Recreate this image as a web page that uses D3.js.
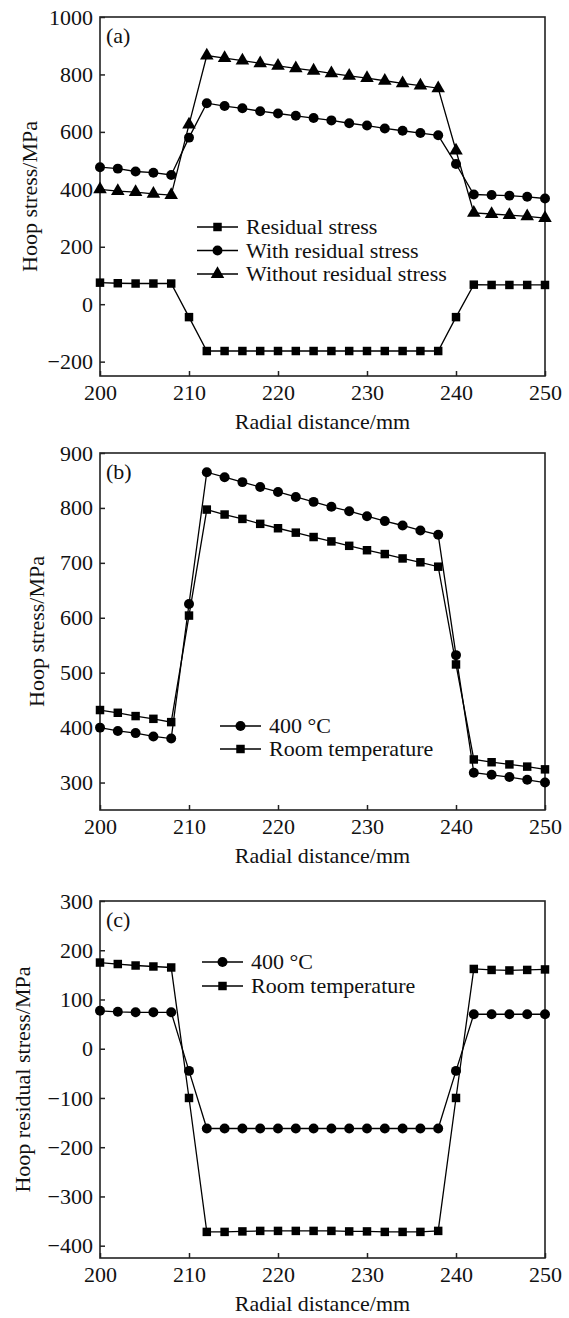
<!DOCTYPE html>
<html>
<head>
<meta charset="utf-8">
<script src="https://cdn.jsdelivr.net/npm/d3@7"></script>
<style>
  body { margin: 0; background: #fff; }
  svg text { font-family: "Liberation Serif", "Times New Roman", serif; fill: #111; }
</style>
</head>
<body>
<div id="chart"></div>
<script>
// radial positions, every 2 mm
var radial = [200,202,204,206,208,210,212,214,216,218,220,222,224,226,228,230,232,234,236,238,240,242,244,246,248,250];

// panel (a)
var residualStress = [75,73,72,72,72,-45,-163,-163,-163,-163,-163,-163,-163,-163,-163,-163,-163,-163,-163,-163,-45,68,67,67,67,67];
var withResidual = [477,472,462,458,450,580,700,690,682,672,664,656,648,640,630,622,612,604,596,588,488,382,380,378,374,368];
var withoutResidual = [400,394,390,384,380,625,866,857,848,839,830,821,813,804,795,787,778,769,761,752,535,318,314,310,306,300];

// panel (b)
var hoop400 = [400,394,390,384,380,625,865,856,847,838,829,820,811,802,794,785,776,768,759,751,532,318,314,310,305,300];
var hoopRoom = [432,427,421,416,410,604,797,788,780,771,763,755,747,739,731,723,716,708,701,693,515,342,337,333,329,324];

// panel (c)
var resid400 = [77,75,74,74,74,-45,-162,-162,-162,-162,-162,-162,-162,-162,-162,-162,-162,-162,-162,-162,-45,70,70,70,70,70];
var residRoom = [175,172,169,167,165,-100,-372,-372,-371,-370,-370,-370,-370,-370,-371,-371,-372,-372,-372,-370,-100,162,160,159,160,161];

var xTicks = [200,210,220,230,240,250];
var yTicksA = [-200,0,200,400,600,800,1000];
var yTicksB = [300,400,500,600,700,800,900];
var yTicksC = [-400,-300,-200,-100,0,100,200,300];

var svgWidth = 569, svgHeight = 1318;
var left = 100, right = 545;

var svg = d3.select("#chart").append("svg")
  .attr("width", svgWidth)
  .attr("height", svgHeight);

var symbols = {
  square: d3.symbol().type(d3.symbolSquare).size(72)(),
  circle: d3.symbol().type(d3.symbolCircle).size(78)(),
  triangle: d3.symbol().type(d3.symbolTriangle).size(80)()
};

function drawPanel(cfg) {
  var x = d3.scaleLinear().domain([200, 250]).range([left, right]);
  var y = d3.scaleLinear().domain(cfg.yDomain).range([cfg.bottom, cfg.top]);

  var g = svg.append("g");

  // bottom axis, ticks pointing inside
  var xAxis = g.append("g")
    .attr("transform", `translate(0,${cfg.bottom})`)
    .call(d3.axisBottom(x).tickValues(xTicks).tickSize(-5).tickPadding(8));
  xAxis.select(".domain").remove();

  var yAxis = g.append("g")
    .attr("transform", `translate(${left},0)`)
    .call(d3.axisLeft(y).tickValues(cfg.yTicks).tickSize(-5).tickPadding(7)
      .tickFormat(d => d < 0 ? "\u2212" + Math.abs(d) : d));
  yAxis.select(".domain").remove();

  g.selectAll(".tick line").attr("stroke", "#222").attr("stroke-width", 1.5);
  g.selectAll(".tick text")
    .style("font-family", "Liberation Serif, serif")
    .style("font-size", "22px")
    .attr("fill", "#111");

  // frame
  g.append("rect")
    .attr("x", left).attr("y", cfg.top)
    .attr("width", right - left).attr("height", cfg.bottom - cfg.top)
    .attr("fill", "none").attr("stroke", "#222").attr("stroke-width", 1.6);

  var line = d3.line().x((d, i) => x(radial[i])).y(d => y(d));

  cfg.series.forEach(function(s) {
    g.append("path")
      .datum(s.values)
      .attr("d", line)
      .attr("fill", "none")
      .attr("stroke", "#000")
      .attr("stroke-width", 1.3);

    g.selectAll(null)
      .data(s.values)
      .enter()
      .append("path")
      .attr("d", symbols[s.marker])
      .attr("transform", (d, i) => `translate(${x(radial[i])},${y(d)})`)
      .attr("fill", "#000");
  });

  // legend
  cfg.series.forEach(function(s, i) {
    var ly = cfg.legend.y + i * cfg.legend.step;
    g.append("line")
      .attr("x1", cfg.legend.x).attr("x2", cfg.legend.x + 41)
      .attr("y1", ly).attr("y2", ly)
      .attr("stroke", "#000").attr("stroke-width", 1.3);
    g.append("path")
      .attr("d", symbols[s.marker])
      .attr("transform", `translate(${cfg.legend.x + 20.5},${ly})`)
      .attr("fill", "#000");
    g.append("text")
      .attr("x", cfg.legend.x + 49)
      .attr("y", ly + 7)
      .style("font-size", "22px")
      .text(s.name);
  });

  // panel letter
  g.append("text")
    .attr("x", 106).attr("y", cfg.top + 26)
    .style("font-size", "22px")
    .text(cfg.letter);

  // axis titles
  g.append("text")
    .attr("x", (left + right) / 2)
    .attr("y", cfg.bottom + 53)
    .attr("text-anchor", "middle")
    .style("font-size", "22px")
    .text("Radial distance/mm");

  g.append("text")
    .attr("transform", `translate(${cfg.yLabelX},${(cfg.top + cfg.bottom) / 2})rotate(-90)`)
    .attr("text-anchor", "middle")
    .style("font-size", "22px")
    .text(cfg.yLabel);
}

drawPanel({
  top: 17, bottom: 376, yDomain: [-250, 1000], yTicks: yTicksA,
  letter: "(a)", yLabel: "Hoop stress/MPa", yLabelX: 37,
  legend: { x: 197, y: 227, step: 23.5 },
  series: [
    { name: "Residual stress", values: residualStress, marker: "square" },
    { name: "With residual stress", values: withResidual, marker: "circle" },
    { name: "Without residual stress", values: withoutResidual, marker: "triangle" }
  ]
});

drawPanel({
  top: 453, bottom: 810, yDomain: [250, 900], yTicks: yTicksB,
  letter: "(b)", yLabel: "Hoop stress/MPa", yLabelX: 44,
  legend: { x: 220, y: 726, step: 23 },
  series: [
    { name: "400 \u00B0C", values: hoop400, marker: "circle" },
    { name: "Room temperature", values: hoopRoom, marker: "square" }
  ]
});

drawPanel({
  top: 901, bottom: 1258, yDomain: [-425, 300], yTicks: yTicksC,
  letter: "(c)", yLabel: "Hoop residual stress/MPa", yLabelX: 30,
  legend: { x: 202, y: 962, step: 24 },
  series: [
    { name: "400 \u00B0C", values: resid400, marker: "circle" },
    { name: "Room temperature", values: residRoom, marker: "square" }
  ]
});
</script>
</body>
</html>
